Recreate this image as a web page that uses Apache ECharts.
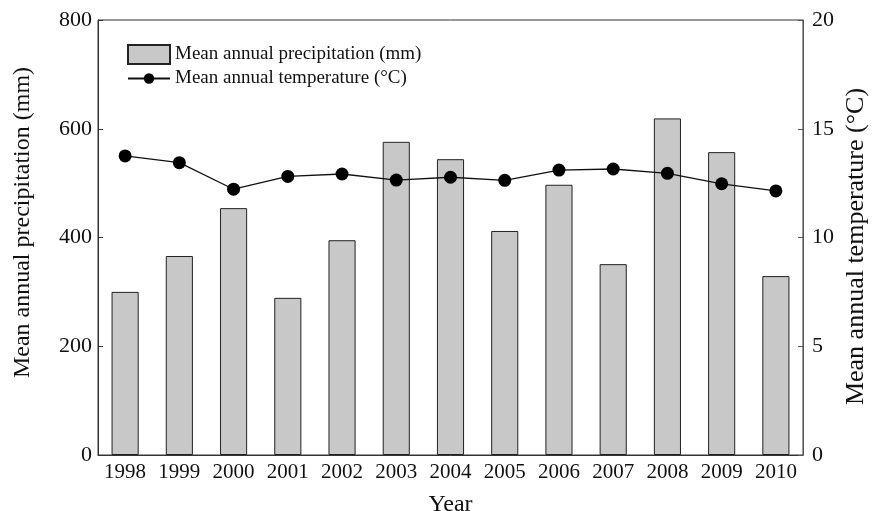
<!DOCTYPE html>
<html>
<head>
<meta charset="utf-8">
<script src="https://cdn.jsdelivr.net/npm/echarts@6/dist/echarts.min.js"></script>
<style>
  html, body { margin: 0; padding: 0; background: #fff; }
  #main { width: 874px; height: 511px; }
</style>
</head>
<body>
<div id="main"></div>
<script>
// data
var years = ["1998", "1999", "2000", "2001", "2002", "2003", "2004", "2005", "2006", "2007", "2008", "2009", "2010"];
var precipitation = [300, 366, 454, 289, 395, 576, 544, 412, 497, 351, 619, 557, 329];
var temperature = [13.75, 13.44, 12.22, 12.81, 12.92, 12.64, 12.77, 12.63, 13.1, 13.15, 12.95, 12.47, 12.14];

var font = "Liberation Serif";

var chart = echarts.init(document.getElementById("main"));
chart.setOption({
  animation: false,
  textStyle: { fontFamily: font, color: "#111" },
  grid: {
    left: 98, right: 71, top: 20, bottom: 56,
    containLabel: false,
    outerBoundsMode: "none",
    show: true, borderColor: "#333", borderWidth: 1, backgroundColor: "transparent"
  },
  legend: [
    {
      data: [{ name: "Mean annual precipitation (mm)", icon: "rect" }],
      left: 122, top: 39,
      itemWidth: 42, itemHeight: 19,
      textStyle: { fontFamily: font, fontSize: 19, color: "#111" }
    },
    {
      data: ["Mean annual temperature (\u00b0C)"],
      left: 122, top: 64,
      itemWidth: 42, itemHeight: 13,
      textStyle: { fontFamily: font, fontSize: 19, color: "#111" }
    }
  ],
  xAxis: {
    type: "category",
    data: years,
    name: "Year",
    nameLocation: "middle",
    nameGap: 38,
    nameMoveOverlap: false,
    nameTextStyle: { fontFamily: font, fontSize: 24, color: "#111" },
    axisLine: { lineStyle: { color: "#333", width: 1 } },
    axisTick: { show: false },
    axisLabel: { fontFamily: font, fontSize: 21, color: "#111", margin: 7, interval: 0 }
  },
  yAxis: [
    {
      type: "value",
      min: 0, max: 800, interval: 200,
      name: "Mean annual precipitation (mm)",
      nameLocation: "middle",
      nameGap: 63,
      nameMoveOverlap: false,
      nameTextStyle: { fontFamily: font, fontSize: 24, color: "#111", padding: [0, 0, 0, 30] },
      axisLine: { show: true, lineStyle: { color: "#333" } },
      axisTick: { show: true, inside: true, length: 5, lineStyle: { color: "#333" } },
      axisLabel: { fontFamily: font, fontSize: 22, color: "#111", margin: 6 },
      splitLine: { show: false }
    },
    {
      type: "value",
      min: 0, max: 20, interval: 5,
      name: "Mean annual temperature (\u00b0C)",
      nameLocation: "middle",
      nameGap: 40,
      nameRotate: 90,
      nameMoveOverlap: false,
      nameTextStyle: { fontFamily: font, fontSize: 26, color: "#111", padding: [0, 18, 0, 0] },
      axisLine: { show: true, lineStyle: { color: "#555" } },
      axisTick: { show: true, inside: true, length: 5, lineStyle: { color: "#555" } },
      axisLabel: { fontFamily: font, fontSize: 22, color: "#111", margin: 9 },
      splitLine: { show: false }
    }
  ],
  series: [
    {
      name: "Mean annual precipitation (mm)",
      type: "bar",
      data: precipitation,
      barWidth: "50%",
      itemStyle: { color: "#c8c8c8", borderColor: "#222", borderWidth: 1 }
    },
    {
      name: "Mean annual temperature (\u00b0C)",
      type: "line",
      yAxisIndex: 1,
      data: temperature,
      symbol: "circle",
      symbolSize: 13,
      itemStyle: { color: "#000" },
      lineStyle: { color: "#111", width: 1.3 }
    }
  ]
});
</script>
</body>
</html>
